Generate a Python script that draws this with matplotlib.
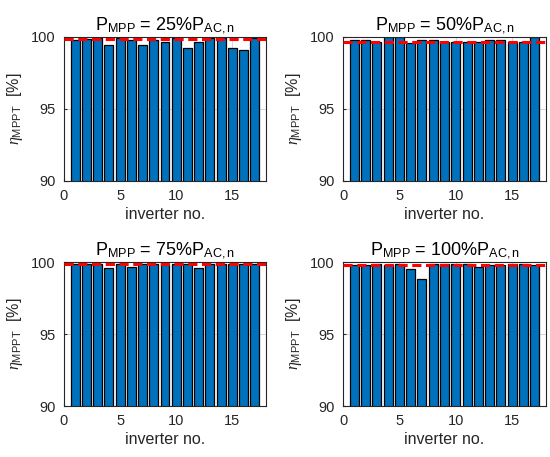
import numpy as np
import matplotlib
matplotlib.use("Agg")
import matplotlib.pyplot as plt

plt.rcParams['font.family'] = ['Liberation Sans', 'DejaVu Sans']
plt.rcParams['mathtext.fontset'] = 'custom'
plt.rcParams['mathtext.rm'] = 'Liberation Sans'
plt.rcParams['mathtext.it'] = 'Liberation Serif:italic'

inverter = np.arange(1, 18)
eta_25 = [99.79, 99.86, 99.93, 99.42, 99.93, 99.81, 99.42, 99.81, 99.65,
          99.93, 99.24, 99.65, 99.93, 99.93, 99.24, 99.07, 99.93]
eta_50 = [99.81, 99.81, 99.65, 99.98, 99.98, 99.58, 99.81, 99.81, 99.65,
          99.65, 99.65, 99.65, 99.81, 99.81, 99.65, 99.65, 99.98]
eta_75 = [99.86, 99.86, 99.86, 99.58, 99.86, 99.63, 99.86, 99.86, 99.86,
          99.86, 99.86, 99.58, 99.86, 99.86, 99.86, 99.86, 99.86]
eta_100 = [99.81, 99.81, 99.86, 99.81, 99.88, 99.54, 98.82, 99.86, 99.86,
           99.86, 99.86, 99.63, 99.81, 99.81, 99.86, 99.86, 99.81]
ref_lines = [99.86, 99.63, 99.84, 99.81]
loads = ['25', '50', '75', '100']
all_eta = [eta_25, eta_50, eta_75, eta_100]

fig = plt.figure(figsize=(5.5, 4.57), dpi=100)
positions = [
    [64 / 550, 1 - 181 / 457, 202 / 550, 144 / 457],
    [343 / 550, 1 - 181 / 457, 203 / 550, 144 / 457],
    [64 / 550, 1 - 406 / 457, 202 / 550, 144 / 457],
    [343 / 550, 1 - 406 / 457, 203 / 550, 144 / 457],
]

for k in range(4):
    ax = fig.add_axes(positions[k])
    ax.set_axisbelow(True)
    ax.grid(True, color='#d0d0d0', linewidth=0.6)
    ax.bar(inverter, all_eta[k], width=0.8, color='#0072BD',
           edgecolor='black', linewidth=0.9, zorder=2)
    ax.axhline(ref_lines[k], color='red', linestyle='--', linewidth=2.2,
               dashes=(3, 1.5), zorder=3)
    ax.set_xlim(0, 18)
    ax.set_ylim(90, 100)
    ax.set_xticks([0, 5, 10, 15])
    ax.set_yticks([90, 95, 100])
    ax.tick_params(direction='in', length=2.5, labelsize=10.5,
                   colors='#262626', pad=6)
    for s in ax.spines.values():
        s.set_color('#262626')
        s.set_linewidth(0.8)
    ax.set_xlabel('inverter no.', fontsize=11.5, color='#262626', labelpad=3)
    ax.set_ylabel(r'$\eta_{\mathrm{MPPT}}$  [%]', fontsize=11.5,
                  color='#262626', labelpad=4)
    ax.set_title(r'P$_{\mathrm{MPP}}$ = ' + loads[k] + r'%P$_{\mathrm{AC,n}}$',
                 fontsize=13, color='black', pad=5)

fig.savefig('out.png', dpi=100)
